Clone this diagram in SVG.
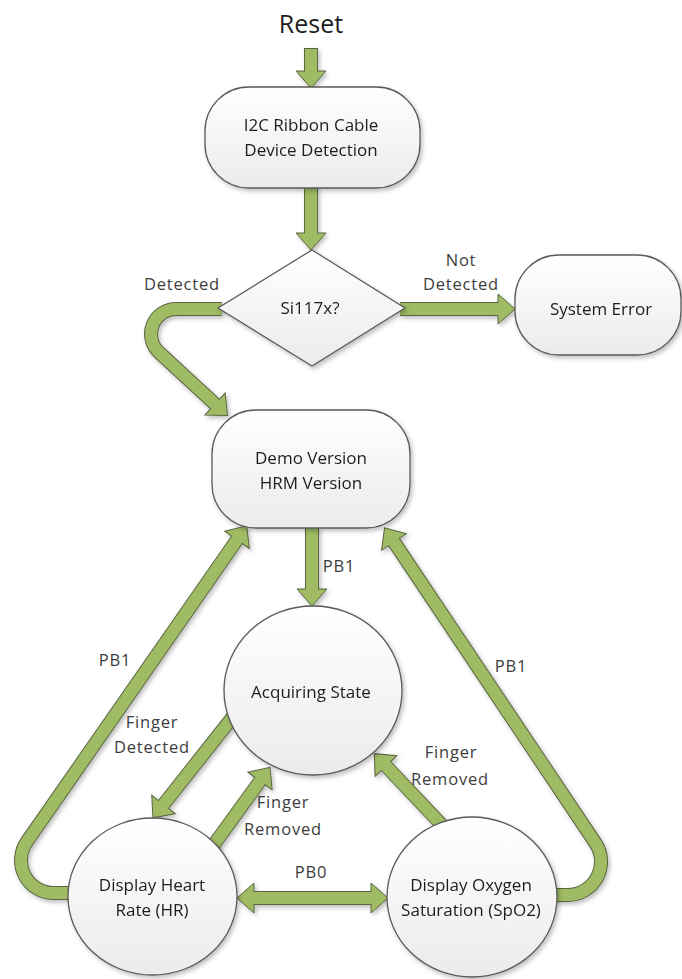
<svg xmlns="http://www.w3.org/2000/svg" width="682" height="979" viewBox="0 0 682 979">
<style>
.o{fill:none;stroke:#5b6642;stroke-width:14;stroke-linecap:butt;stroke-linejoin:round}
.i{fill:none;stroke:#9fbb64;stroke-width:12;stroke-linecap:butt;stroke-linejoin:round}
.nd{fill:url(#g);stroke:#5a5a5a;stroke-width:1.3}
.t{font-family:"Open Sans","Noto Sans",sans-serif;font-size:17px;fill:#1e1e1e;text-anchor:middle}
.l{font-family:"Open Sans","Noto Sans",sans-serif;font-size:16.5px;fill:#3c3c3c;text-anchor:middle;letter-spacing:0.8px}
</style>
<defs>
<linearGradient id="g" x1="0" y1="0" x2="0" y2="1">
<stop offset="0" stop-color="#ffffff"/>
<stop offset="1" stop-color="#ebebeb"/>
</linearGradient>
<filter id="sh" x="-20%" y="-20%" width="140%" height="140%">
<feDropShadow dx="2" dy="2.5" stdDeviation="2" flood-color="#000" flood-opacity="0.25"/>
</filter>
<marker id="ah" markerUnits="userSpaceOnUse" markerWidth="20" markerHeight="34" viewBox="-1 -17 20 34" refX="0" refY="0" orient="auto-start-reverse" overflow="visible">
<path d="M0,-15 L17,0 L0,15 Z" fill="#9fbb64"/>
<path d="M0,-6 L0,-15 L17,0 L0,15 L0,6" fill="none" stroke="#5b6642" stroke-width="1"/>
</marker>
</defs>

<g id="connectors" filter="url(#sh)">
<g id="c-reset"><path class="o" d="M311 48 L311 71"/><path class="i" d="M311 49 L311 71" marker-end="url(#ah)"/></g>
<g id="c-detect"><path class="o" d="M311 186 L311 233"/><path class="i" d="M311 186 L311 233" marker-end="url(#ah)"/></g>
<g id="c-notdetected"><path class="o" d="M400 309 L498 309"/><path class="i" d="M400 309 L498 309" marker-end="url(#ah)"/></g>
<g id="c-detected"><path class="o" d="M222 309 L176 309 A25 25 0 0 0 159.75 353 L215 404"/><path class="i" d="M222 309 L176 309 A25 25 0 0 0 159.75 353 L215 404" marker-end="url(#ah)"/></g>
<g id="c-pb1-down"><path class="o" d="M312 526 L312 589"/><path class="i" d="M312 526 L312 589" marker-end="url(#ah)"/></g>
<g id="c-pb1-left"><path class="o" d="M72 893 L53.7 893 A32.7 32.7 0 0 1 26.9 841.6 L237 539.8"/><path class="i" d="M72 893 L53.7 893 A32.7 32.7 0 0 1 26.9 841.6 L237 539.8" marker-end="url(#ah)"/></g>
<g id="c-pb1-right"><path class="o" d="M553 895 L567.6 895 A33.4 33.4 0 0 0 595.4 843 L394 542"/><path class="i" d="M553 895 L567.6 895 A33.4 33.4 0 0 0 595.4 843 L394 542" marker-end="url(#ah)"/></g>
<g id="c-finger-detected"><path class="o" d="M233 716.7 L163.5 804.5"/><path class="i" d="M233 716.7 L163.5 804.5" marker-end="url(#ah)"/></g>
<g id="c-finger-removed-hr"><path class="o" d="M210.3 849.5 L260 781"/><path class="i" d="M210.3 849.5 L260 781" marker-end="url(#ah)"/></g>
<g id="c-finger-removed-spo2"><path class="o" d="M445.5 828.8 L386 766"/><path class="i" d="M445.5 828.8 L386 766" marker-end="url(#ah)"/></g>
<g id="c-pb0"><path class="o" d="M254 898 L371 898"/><path class="i" d="M254 898 L371 898" marker-start="url(#ah)" marker-end="url(#ah)"/></g>
</g>

<g id="labels">
<text x="311" y="33" font-family="Open Sans, Noto Sans, sans-serif" font-size="25" fill="#1e1e1e" text-anchor="middle">Reset</text>
<text class="l" x="182" y="290">Detected</text>
<text class="l" x="461" y="266">Not</text>
<text class="l" x="461" y="290">Detected</text>
<text class="l" x="339" y="572">PB1</text>
<text class="l" x="115" y="666">PB1</text>
<text class="l" x="511" y="672">PB1</text>
<text class="l" x="152" y="728">Finger</text>
<text class="l" x="152" y="753">Detected</text>
<text class="l" x="283" y="808">Finger</text>
<text class="l" x="283" y="835">Removed</text>
<text class="l" x="451" y="758">Finger</text>
<text class="l" x="450" y="785">Removed</text>
<text class="l" x="311" y="878">PB0</text>
</g>

<g id="n-i2c" filter="url(#sh)"><rect class="nd" x="205" y="87" width="215" height="101" rx="44"/><text class="t" x="311" y="131">I2C Ribbon Cable</text><text class="t" x="311" y="156">Device Detection</text></g>
<g id="n-si117x" filter="url(#sh)"><polygon class="nd" points="312,250 405,308 312,366 218,308"/><text class="t" x="310" y="314">Si117x?</text></g>
<g id="n-error" filter="url(#sh)"><rect class="nd" x="515" y="255" width="166" height="100" rx="44"/><text class="t" x="601" y="315">System Error</text></g>
<g id="n-demo" filter="url(#sh)"><rect class="nd" x="212" y="410" width="198" height="118" rx="44"/><text class="t" x="311" y="464">Demo Version</text><text class="t" x="311" y="489">HRM Version</text></g>
<g id="n-acq" filter="url(#sh)"><ellipse class="nd" cx="313" cy="690.5" rx="89" ry="84.5"/><text class="t" x="311" y="698">Acquiring State</text></g>
<g id="n-hr" filter="url(#sh)"><ellipse class="nd" cx="152.5" cy="896.5" rx="84.5" ry="78.5"/><text class="t" x="152" y="891">Display Heart</text><text class="t" x="152" y="916">Rate (HR)</text></g>
<g id="n-spo2" filter="url(#sh)"><ellipse class="nd" cx="472" cy="897" rx="85" ry="80"/><text class="t" x="471" y="891">Display Oxygen</text><text class="t" x="471" y="916">Saturation (SpO2)</text></g>
</svg>
